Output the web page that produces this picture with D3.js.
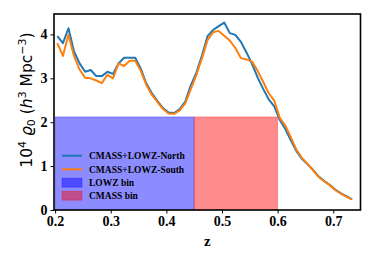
<!DOCTYPE html>
<html><head><meta charset="utf-8">
<script src="https://cdn.jsdelivr.net/npm/d3@7"></script>
<style>body{margin:0;background:#fff}svg{display:block}</style>
</head><body><svg id="c" width="374" height="262"></svg>
<script>
const z = [0.204,0.214,0.224,0.234,0.244,0.254,0.264,0.274,0.284,0.294,0.304,0.314,0.324,0.334,0.344,0.354,0.364,0.374,0.384,0.394,0.404,0.414,0.424,0.434,0.444,0.454,0.464,0.474,0.484,0.494,0.504,0.514,0.524,0.534,0.544,0.554,0.564,0.574,0.584,0.594,0.604,0.614,0.624,0.634,0.644,0.654,0.664,0.674,0.684,0.694,0.704,0.714,0.724,0.734];
const north = [3.96,3.80,4.14,3.61,3.34,3.15,3.19,3.05,3.05,3.15,3.10,3.34,3.47,3.47,3.47,3.22,2.88,2.66,2.48,2.32,2.22,2.21,2.30,2.47,2.84,3.13,3.52,3.96,4.10,4.19,4.27,4.03,3.99,3.83,3.59,3.33,3.02,2.76,2.52,2.36,2.05,1.84,1.58,1.34,1.16,1.04,0.91,0.76,0.66,0.57,0.46,0.38,0.31,0.24];
const south = [3.80,3.51,3.99,3.51,3.20,3.01,3.00,2.95,2.89,3.08,3.00,3.34,3.28,3.40,3.40,3.17,2.85,2.62,2.46,2.30,2.20,2.19,2.27,2.43,2.76,3.08,3.46,3.87,4.05,4.08,3.97,3.86,3.69,3.46,3.43,3.38,3.17,2.92,2.66,2.49,2.10,1.92,1.65,1.37,1.18,1.05,0.90,0.75,0.65,0.56,0.45,0.37,0.30,0.24];
const bins = [{name:"LOWZ bin", z0:0.2, z1:0.45, h:2.12, color:"blue"},{name:"CMASS bin", z0:0.45, z1:0.6, h:2.12, color:"red"}];
const xTicks = [0.2,0.3,0.4,0.5,0.6,0.7];
const yTicks = [0,1,2,3,4];
const seriesNames = ["CMASS+LOWZ-North","CMASS+LOWZ-South"];
const seriesColors = ["#1f77b4","#ff7f0e"];

const svg = d3.select("#c");
const L=54, R=360.5, T=14, B=210;
const x = d3.scaleLinear().domain([0.198,0.749]).range([L,R]);
const y = d3.scaleLinear().domain([0,4.465]).range([B,T]);

svg.selectAll("rect.bin").data(bins).enter().append("rect")
  .attr("x",d=>x(d.z0)).attr("width",d=>x(d.z1)-x(d.z0))
  .attr("y",d=>y(d.h)).attr("height",d=>y(0)-y(d.h))
  .attr("fill",d=>d.color).attr("fill-opacity",0.45)
  .attr("stroke",d=>d.color).attr("stroke-opacity",0.3).attr("stroke-width",1);

const line = d3.line().x((d,i)=>x(z[i])).y(d=>y(d));
[north,south].forEach((s,k)=>{
  svg.append("path").attr("d",line(s)).attr("fill","none")
    .attr("stroke",seriesColors[k]).attr("stroke-width",2).attr("stroke-linejoin","round");
});

const fontTick = "'Liberation Serif', serif";
const xa = svg.append("g").attr("transform",`translate(0,${B})`)
  .call(d3.axisBottom(x).tickValues(xTicks).tickFormat(d3.format(".1f")).tickSize(3.5).tickPadding(3));
const ya = svg.append("g").attr("transform",`translate(${L},0)`)
  .call(d3.axisLeft(y).tickValues(yTicks).tickFormat(d3.format("d")).tickSize(3.5).tickPadding(3));
[xa,ya].forEach(a=>{
  a.select(".domain").remove();
  a.selectAll("line").attr("stroke","#000").attr("stroke-width",1);
  a.selectAll("text").attr("font-family",fontTick).attr("font-weight","bold").attr("font-size",14).attr("fill","#000");
});
svg.append("rect").attr("x",L).attr("y",T).attr("width",R-L).attr("height",B-T)
  .attr("fill","none").attr("stroke","#000").attr("stroke-width",1.6);

svg.append("text").attr("x",(L+R)/2).attr("y",246).attr("text-anchor","middle")
  .attr("font-family",fontTick).attr("font-weight","bold").attr("font-size",15).text("z");

const yl = svg.append("text").attr("transform",`translate(32,100) rotate(-90)`)
  .attr("text-anchor","middle").attr("font-family","'DejaVu Sans', sans-serif").attr("font-size",15.5);
yl.append("tspan").text("10");
yl.append("tspan").attr("dy",-6).attr("font-size",11).text("4");
yl.append("tspan").attr("dy",6).text(" ");
yl.append("tspan").attr("font-style","italic").text("ϱ");
yl.append("tspan").attr("dy",3).attr("font-size",11).text("0");
yl.append("tspan").attr("dy",-3).text(" (");
yl.append("tspan").attr("font-style","italic").text("h");
yl.append("tspan").attr("dy",-6).attr("font-size",11).text("3");
yl.append("tspan").attr("dy",6).text(" Mpc");
yl.append("tspan").attr("dy",-6).attr("font-size",11).text("−3");
yl.append("tspan").attr("dy",6).text(")");

const lg = svg.append("g");
const ly = [155.7,169.3,182.7,195.7];
seriesNames.forEach((n,i)=>{
  lg.append("line").attr("x1",62).attr("x2",82).attr("y1",ly[i]).attr("y2",ly[i])
    .attr("stroke",seriesColors[i]).attr("stroke-width",2);
});
bins.forEach((b,i)=>{
  lg.append("rect").attr("x",62).attr("y",ly[i+2]-4.5).attr("width",20).attr("height",9)
    .attr("fill",b.color).attr("fill-opacity",0.45).attr("stroke",b.color).attr("stroke-opacity",0.3);
});
seriesNames.concat(bins.map(b=>b.name)).forEach((n,i)=>{
  lg.append("text").attr("x",89).attr("y",ly[i]+3.3).attr("font-family",fontTick)
    .attr("font-weight","bold").attr("font-size",9.5).attr("fill","#000").text(n);
});
</script></body></html>
